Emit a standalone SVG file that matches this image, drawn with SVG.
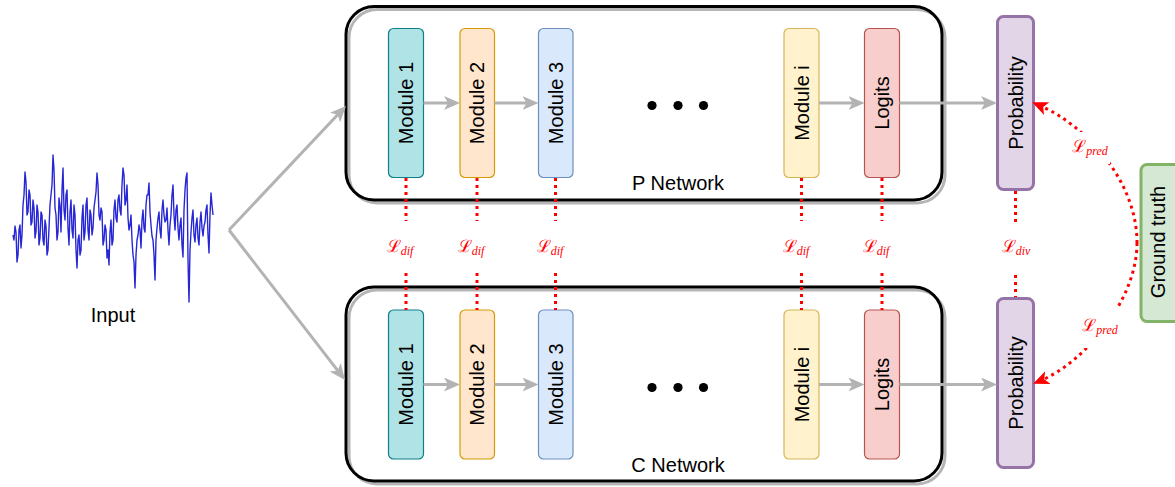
<svg xmlns="http://www.w3.org/2000/svg" width="1175" height="487" viewBox="0 0 1175 487">
<style>
.net{fill:none;stroke:#000;stroke-width:3}
.shadow{fill:none;stroke:#b5b5b5;stroke-width:3}
.mod{stroke-width:1.2}
.lbl{font-family:"Liberation Sans",Arial,sans-serif;font-size:20px;fill:#000}
.gray{stroke:#b3b3b3;stroke-width:3;fill:none}
.red{stroke:#ff0000;stroke-width:3;fill:none;stroke-dasharray:3 4}
.loss{font-family:"DejaVu Serif","Liberation Serif",serif;font-style:normal;fill:#ff0000;font-size:17px}
.sub{font-size:12px;font-style:italic;font-family:"Liberation Serif","DejaVu Serif",serif}
</style>
<defs>
<marker id="ga" markerUnits="userSpaceOnUse" markerWidth="16" markerHeight="14" refX="8" refY="7" orient="auto">
<path d="M0,0 L16,7 L0,14 L4,7 Z" fill="#b3b3b3"/>
</marker>
<marker id="ra" markerUnits="userSpaceOnUse" markerWidth="16" markerHeight="14" refX="8" refY="7" orient="auto">
<path d="M0,0 L16,7 L0,14 L4,7 Z" fill="#ff0000"/>
</marker>
</defs>

<g id="input">
<polyline fill="none" stroke="#0000cc" stroke-width="1.4" stroke-opacity="0.85" stroke-linejoin="round" points="13,235 14,240 15,226 16,232 17,262 18,255 19,230 20,225 21,248 22,235 23,205 24,195 25,172 26,182 27,215 28,212 29,190 30,195 31,225 32,222 33,200 34,208 35,238 36,232 37,205 38,212 39,245 40,238 41,212 42,215 43,240 44,245 45,220 46,226 47,255 48,250 49,228 50,205 51,195 52,185 53,155 54,170 55,208 56,215 57,240 58,232 59,198 60,205 61,232 62,190 63,168 64,210 65,220 66,195 67,190 68,228 69,245 70,212 71,200 72,230 73,238 74,205 75,215 76,250 77,268 78,240 79,235 80,255 81,250 82,218 83,205 84,240 85,232 86,205 87,198 88,230 89,240 90,210 91,215 92,235 93,228 94,208 95,200 96,192 97,173 98,185 99,215 100,220 101,208 102,212 103,245 104,240 105,225 106,230 107,258 108,250 109,265 110,232 111,220 112,245 113,240 114,210 115,200 116,218 117,222 118,200 119,195 120,210 121,215 122,185 123,168 124,175 125,205 126,200 127,185 128,218 129,230 130,225 131,215 132,240 133,255 134,262 135,288 136,255 137,240 138,235 139,225 140,230 141,248 142,220 143,210 144,228 145,232 146,205 147,195 148,195 149,183 150,212 151,225 152,236 153,240 154,255 155,280 156,240 157,228 158,218 159,212 160,230 161,238 162,210 163,200 164,215 165,222 166,220 167,208 168,230 169,245 170,225 171,215 172,195 173,185 174,215 175,230 176,210 177,205 178,228 179,240 180,225 181,218 182,245 183,257 184,210 185,190 186,178 187,173 188,260 189,302 190,250 191,232 192,218 193,210 194,235 195,242 196,225 197,218 198,238 199,245 200,222 201,212 202,228 203,236 204,226 205,222 206,210 207,205 208,235 209,253 210,215 211,193 212,205 213,215"/>
<text class="lbl" x="113" y="322" text-anchor="middle" font-size="18">Input</text>
</g>

<g id="p-network">
<rect class="shadow" x="349" y="9.5" width="596" height="193.5" rx="28"/>
<rect class="net" x="346" y="6.5" width="596" height="193.5" rx="28"/>
<text class="lbl" x="678" y="190" text-anchor="middle">P Network</text>
</g>
<g id="c-network">
<rect class="shadow" x="349" y="290" width="596" height="194" rx="28"/>
<rect class="net" x="346" y="287" width="596" height="194" rx="28"/>
<text class="lbl" x="678" y="472" text-anchor="middle">C Network</text>
</g>

<g id="p-module1"><rect class="mod" x="388.5" y="28.5" width="35" height="149" rx="5" fill="#b0e3e6" stroke="#0e8088"/><text class="lbl" transform="translate(406,103) rotate(-90)" y="7" text-anchor="middle">Module 1</text></g>
<g id="p-module2"><rect class="mod" x="460" y="28.5" width="34.5" height="149" rx="5" fill="#ffe6cc" stroke="#d79b00"/><text class="lbl" transform="translate(477.3,103) rotate(-90)" y="7" text-anchor="middle">Module 2</text></g>
<g id="p-module3"><rect class="mod" x="538.5" y="28.5" width="34.5" height="149" rx="5" fill="#dae8fc" stroke="#6c8ebf"/><text class="lbl" transform="translate(555.7,103) rotate(-90)" y="7" text-anchor="middle">Module 3</text></g>
<g id="p-dots"><circle cx="652" cy="105.5" r="4.6"/><circle cx="678" cy="105.5" r="4.6"/><circle cx="703.5" cy="105.5" r="4.6"/></g>
<g id="p-modulei"><rect class="mod" x="784" y="28.5" width="35" height="149" rx="5" fill="#fff2cc" stroke="#d6b656"/><text class="lbl" transform="translate(801.5,103) rotate(-90)" y="7" text-anchor="middle">Module i</text></g>
<g id="p-logits"><rect class="mod" x="864.5" y="28.5" width="35" height="149" rx="5" fill="#f8cecc" stroke="#b85450"/><text class="lbl" transform="translate(882,103) rotate(-90)" y="7" text-anchor="middle">Logits</text></g>
<g id="p-prob"><rect x="997.5" y="16.5" width="36" height="173" rx="6" fill="#e1d5e7" stroke="#9673a6" stroke-width="3"/><text class="lbl" transform="translate(1015.5,103) rotate(-90)" y="7" text-anchor="middle">Probability</text></g>

<g id="c-module1"><rect class="mod" x="388.5" y="310" width="35" height="149" rx="5" fill="#b0e3e6" stroke="#0e8088"/><text class="lbl" transform="translate(406,384.5) rotate(-90)" y="7" text-anchor="middle">Module 1</text></g>
<g id="c-module2"><rect class="mod" x="460" y="310" width="34.5" height="149" rx="5" fill="#ffe6cc" stroke="#d79b00"/><text class="lbl" transform="translate(477.3,384.5) rotate(-90)" y="7" text-anchor="middle">Module 2</text></g>
<g id="c-module3"><rect class="mod" x="538.5" y="310" width="34.5" height="149" rx="5" fill="#dae8fc" stroke="#6c8ebf"/><text class="lbl" transform="translate(555.7,384.5) rotate(-90)" y="7" text-anchor="middle">Module 3</text></g>
<g id="c-dots"><circle cx="652" cy="387.5" r="4.6"/><circle cx="678" cy="387.5" r="4.6"/><circle cx="703.5" cy="387.5" r="4.6"/></g>
<g id="c-modulei"><rect class="mod" x="784" y="310" width="35" height="149" rx="5" fill="#fff2cc" stroke="#d6b656"/><text class="lbl" transform="translate(801.5,384.5) rotate(-90)" y="7" text-anchor="middle">Module i</text></g>
<g id="c-logits"><rect class="mod" x="864.5" y="310" width="35" height="149" rx="5" fill="#f8cecc" stroke="#b85450"/><text class="lbl" transform="translate(882,384.5) rotate(-90)" y="7" text-anchor="middle">Logits</text></g>
<g id="c-prob"><rect x="997.5" y="298.5" width="36" height="169" rx="6" fill="#e1d5e7" stroke="#9673a6" stroke-width="3"/><text class="lbl" transform="translate(1015.5,383) rotate(-90)" y="7" text-anchor="middle">Probability</text></g>

<g id="ground-truth"><rect x="1141" y="164.5" width="40" height="157" rx="6" fill="#d5e8d4" stroke="#82b366" stroke-width="3"/><text class="lbl" transform="translate(1158,242) rotate(-90)" y="7" text-anchor="middle">Ground truth</text></g>

<g id="connectors">
<path class="gray" d="M229,230 L340.5,111.8" marker-end="url(#ga)"/>
<path class="gray" d="M229,230 L340.1,373.7" marker-end="url(#ga)"/>
<path class="gray" d="M423.5,103 H452" marker-end="url(#ga)"/>
<path class="gray" d="M494.5,103 H530.5" marker-end="url(#ga)"/>
<path class="gray" d="M819,103 H856.5" marker-end="url(#ga)"/>
<path class="gray" d="M899.5,103 H989" marker-end="url(#ga)"/>
<path class="gray" d="M423.5,384.5 H452" marker-end="url(#ga)"/>
<path class="gray" d="M494.5,384.5 H530.5" marker-end="url(#ga)"/>
<path class="gray" d="M819,384.5 H856.5" marker-end="url(#ga)"/>
<path class="gray" d="M899.5,384.5 H989" marker-end="url(#ga)"/>

<path class="red" d="M406,178 V221 M406,273 V310"/>
<path class="red" d="M477,178 V221 M477,273 V310"/>
<path class="red" d="M555.5,178 V221 M555.5,273 V310"/>
<path class="red" d="M801.5,178 V221 M801.5,273 V310"/>
<path class="red" d="M882,178 V221 M882,273 V310"/>
<path class="red" d="M1015.5,191 V222 M1015.5,275 V297"/>

<path class="red" d="M1137,243 C1137,180 1085,125 1039.5,105.4" marker-end="url(#ra)"/>
<path class="red" d="M1137,243 C1137,300 1085,362 1040.5,380.7" marker-end="url(#ra)"/>
<rect x="1070" y="132" width="40" height="32" fill="#fff"/>
<rect x="1082" y="308" width="40" height="40" fill="#fff"/>
</g>

<g id="loss-labels">
<text class="loss" x="400" y="252" text-anchor="middle">ℒ<tspan class="sub" dy="3">dif</tspan></text>
<text class="loss" x="471" y="252" text-anchor="middle">ℒ<tspan class="sub" dy="3">dif</tspan></text>
<text class="loss" x="550" y="252" text-anchor="middle">ℒ<tspan class="sub" dy="3">dif</tspan></text>
<text class="loss" x="796" y="252" text-anchor="middle">ℒ<tspan class="sub" dy="3">dif</tspan></text>
<text class="loss" x="876" y="252" text-anchor="middle">ℒ<tspan class="sub" dy="3">dif</tspan></text>
<text class="loss" x="1016" y="252" text-anchor="middle">ℒ<tspan class="sub" dy="3">div</tspan></text>
<text class="loss" x="1090" y="152" text-anchor="middle">ℒ<tspan class="sub" dy="3">pred</tspan></text>
<text class="loss" x="1100" y="331" text-anchor="middle">ℒ<tspan class="sub" dy="3">pred</tspan></text>
</g>
</svg>
